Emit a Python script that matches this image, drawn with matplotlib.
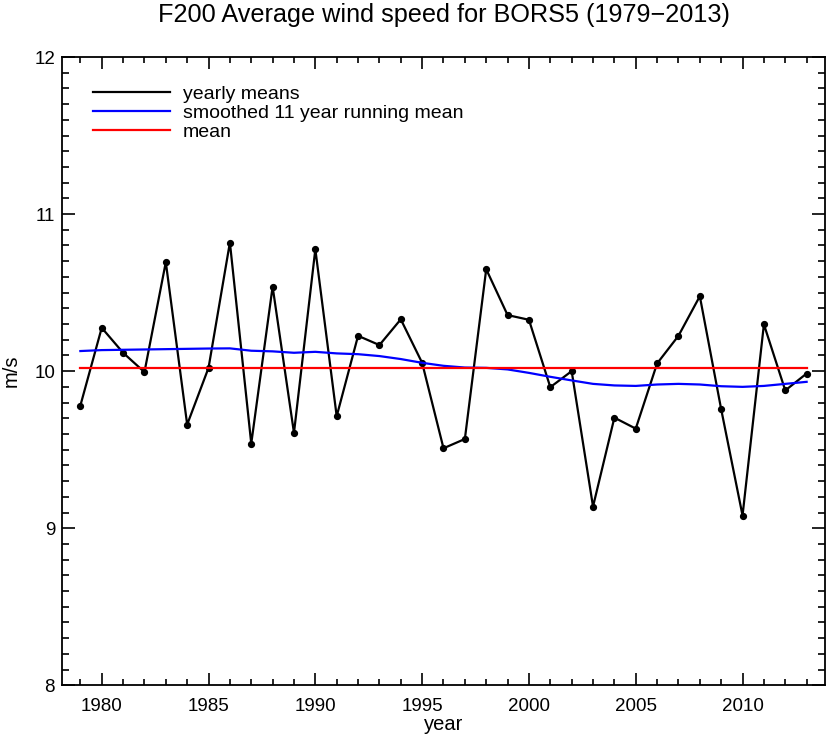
import matplotlib
matplotlib.use("Agg")
import matplotlib.pyplot as plt
from matplotlib.ticker import MultipleLocator

plt.rcParams['font.family'] = ['Liberation Sans', 'DejaVu Sans']

years = list(range(1979, 2014))
yearly = [9.781, 10.276, 10.117, 9.994, 10.694, 9.660, 10.021, 10.819, 9.539, 10.538,
          9.607, 10.776, 9.713, 10.225, 10.166, 10.330, 10.053, 9.509, 9.568, 10.649,
          10.357, 10.327, 9.898, 10.000, 9.138, 9.704, 9.634, 10.049, 10.225, 10.477,
          9.757, 9.081, 10.298, 9.877, 9.985]
smoothed = [10.128, 10.134, 10.136, 10.138, 10.140, 10.142, 10.144, 10.145, 10.130, 10.126,
            10.117, 10.123, 10.113, 10.108, 10.096, 10.077, 10.053, 10.034, 10.023, 10.021,
            10.011, 9.989, 9.964, 9.941, 9.919, 9.909, 9.906, 9.915, 9.919, 9.915,
            9.904, 9.900, 9.906, 9.919, 9.932]
mean_value = 10.023

title = "F200 Average wind speed for BORS5 (1979\u22122013)"
labels = ["yearly means", "smoothed 11 year running mean", "mean"]

fig = plt.figure(figsize=(8.3, 7.41), dpi=100)
ax = fig.add_axes([62/830, 1-685.3/741, (825-62)/830, (685.3-57)/741])

ax.plot(years, yearly, color='black', lw=1.6, label=labels[0])
ax.plot(years, yearly, color='black', lw=0, marker='o', ms=4.2)
ax.plot(years, smoothed, color='#0000ff', lw=1.6, label=labels[1])
ax.plot([years[0], years[-1]], [mean_value, mean_value], color='#ff0000', lw=1.6, label=labels[2])

ax.set_xlim(1978.14, 2013.86)
ax.set_ylim(8, 12)
ax.xaxis.set_major_locator(MultipleLocator(5))
ax.xaxis.set_minor_locator(MultipleLocator(1))
ax.yaxis.set_major_locator(MultipleLocator(1))
ax.yaxis.set_minor_locator(MultipleLocator(0.1))
ax.tick_params(which='both', direction='in', top=True, right=True, width=1.2, labelsize=13.5)
ax.tick_params(axis='x', which='major', length=8.6, pad=9)
ax.tick_params(axis='x', which='minor', length=4.5)
ax.tick_params(axis='y', which='major', length=9.5, pad=5)
ax.tick_params(axis='y', which='minor', length=5)
for s in ax.spines.values():
    s.set_linewidth(1.3)

ax.set_xlabel("year", fontsize=14.5, labelpad=0)
ax.set_ylabel("m/s", fontsize=14.5, labelpad=10)
ax.set_title(title, fontsize=18.2, pad=25)

leg = ax.legend(loc='upper left', bbox_to_anchor=(93/830, 1-85/741), bbox_transform=fig.transFigure,
                frameon=False, fontsize=14, handlelength=3.96, handletextpad=0.67,
                labelspacing=0.08, borderaxespad=0, borderpad=0)

fig.savefig("out.png", dpi=100)
